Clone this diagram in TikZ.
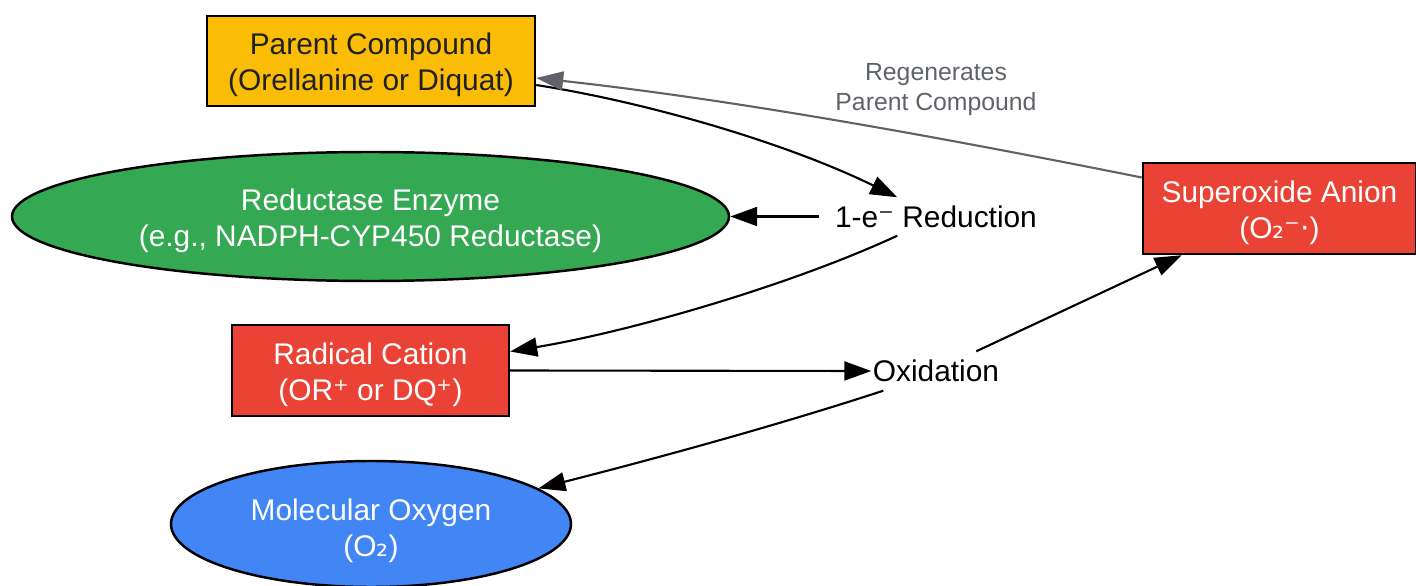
\documentclass[tikz,border=0pt]{standalone}
\usepackage{fontspec}
\setmainfont{Liberation Sans}
\newfontfamily\djs{DejaVu Sans}
\usetikzlibrary{shapes.geometric,arrows.meta,calc}
\definecolor{gyellow}{HTML}{FBBC05}
\definecolor{ggreen}{HTML}{34A853}
\definecolor{gred}{HTML}{EA4335}
\definecolor{gblue}{HTML}{4285F4}
\definecolor{dtext}{HTML}{202124}
\definecolor{gtext}{HTML}{5F6368}
\newcommand\toppad{\rule{0pt}{8.4pt}}
\newcommand\toppadB{\rule{0pt}{10.2pt}}
\tikzset{
  base/.style={draw=black, line width=0.7pt, align=center, inner sep=0pt,
    font=\fontsize{8.5pt}{10.2pt}\selectfont},
  boxnode/.style={base, rectangle},
  ellnode/.style={base, ellipse},
  plainnode/.style={align=center, inner sep=0pt, font=\fontsize{8.5pt}{10.2pt}\selectfont},
  conn/.style={line width=0.6pt, -{Triangle[length=0.27cm,width=0.19cm]}},
  gconn/.style={line width=0.6pt, draw=gtext, -{Triangle[length=0.27cm,width=0.19cm,fill=gtext]}},
}
\begin{document}
\begin{tikzpicture}
\useasboundingbox (0,0) rectangle (14.16,-5.86);
\node[boxnode, fill=gyellow, text=dtext, minimum width=3.28cm, minimum height=0.90cm] (parent) at (3.71,-0.61) {\toppad Parent Compound\\(Orellanine or Diquat)};
\node[ellnode, fill=ggreen, text=white, minimum width=7.17cm, minimum height=1.29cm] (reductase) at (3.705,-2.165) {\toppad Reductase Enzyme\\(e.g., NADPH-CYP450 Reductase)};
\node[boxnode, fill=gred, text=white, minimum width=2.77cm, minimum height=0.91cm] (radical) at (3.705,-3.705) {\toppad Radical Cation\\(OR{\djs ⁺} or DQ{\djs ⁺})};
\node[ellnode, fill=gblue, text=white, minimum width=4.0cm, minimum height=1.26cm] (molox) at (3.71,-5.24) {\toppadB Molecular Oxygen\\({O\djs ₂})};
\node[boxnode, fill=gred, text=white, minimum width=2.73cm, minimum height=0.91cm] (super) at (12.795,-2.085) {\toppad Superoxide Anion\\({O\djs ₂⁻·})};
\node[plainnode, minimum width=2.32cm, minimum height=0.37cm] (red) at (9.36,-2.165) {1-e{\djs ⁻} Reduction};
\node[plainnode, minimum width=1.28cm, minimum height=0.38cm] (ox) at (9.36,-3.71) {Oxidation};
\node[plainnode, text=gtext, font=\fontsize{7.05pt}{8.5pt}\selectfont] (reglabel) at (9.36,-0.895) {Regenerates\\Parent Compound};

\draw[conn] ([yshift=-0.24cm]parent.east) .. controls +(1.15,-0.18) and +(-1.08,0.53) .. ([xshift=0.78cm]red.north west);
\draw[conn] (red.west) -- (reductase.east);
\draw[conn] ([xshift=0.78cm]red.south west) .. controls +(-1.08,-0.5) and +(1.2,0.2) .. ([yshift=0.19cm]radical.east);
\draw[conn] (radical.east) -- (ox.west);
\draw[conn] ([xshift=1.05cm]ox.north west) -- ([xshift=0.4cm]super.south west);
\draw[conn] ([xshift=0.12cm]ox.south west) .. controls +(-1.1,-0.36) and +(1.1,0.28) .. (molox.12);
\draw[gconn] ([yshift=0.31cm]super.west) .. controls +(-2,0.4) and +(2,-0.22) .. ([yshift=-0.17cm]parent.east);
\end{tikzpicture}
\end{document}
